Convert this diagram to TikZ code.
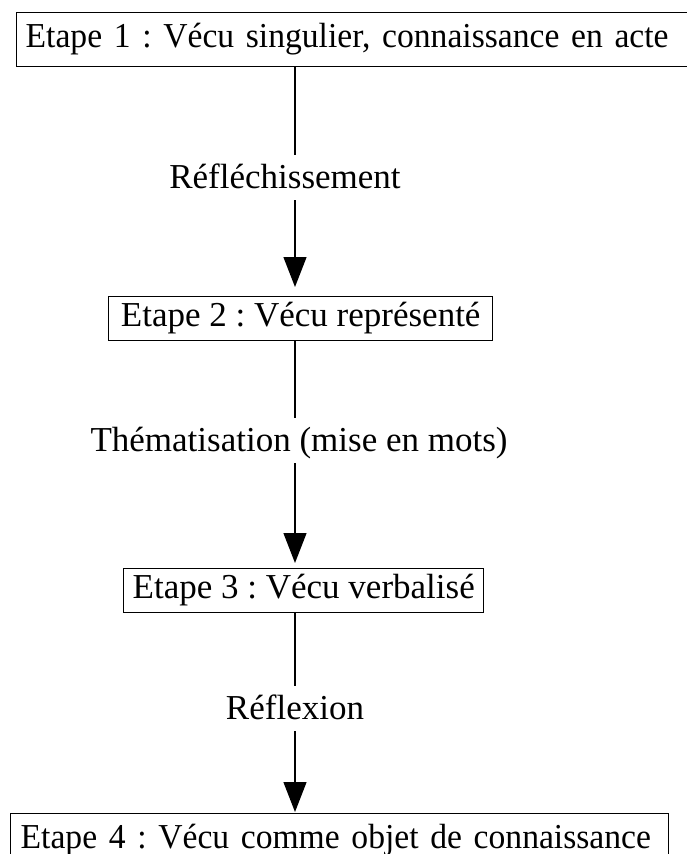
\documentclass[tikz,border=0pt]{standalone}
\usepackage{fontspec}
\setmainfont{Liberation Serif}
\newfontfamily\narrowserif[FakeStretch=0.96]{Liberation Serif}
\usetikzlibrary{arrows.meta}
\frenchspacing
\begin{document}
\begin{tikzpicture}[x=1pt,y=-1pt,
  bigfont/.style={font=\fontsize{35pt}{40pt}\selectfont\frenchspacing},
  narrowfont/.style={font=\fontsize{35pt}{40pt}\narrowserif\frenchspacing},
  stagebox/.style={bigfont, draw, line width=1.4pt, inner xsep=9pt, inner ysep=0pt, text height=25pt, text depth=9pt, anchor=north west, align=center},
  steplabel/.style={bigfont, inner sep=0pt, text height=33pt, text depth=12pt, anchor=base},
  link/.style={line width=1.3pt},
  arrowlink/.style={line width=1.3pt, -{Triangle[width=23pt,length=30pt]}}]
\useasboundingbox (0,0) rectangle (687,854);
\coordinate (axis) at (295,0);
\node[stagebox, narrowfont, minimum height=54pt, text width=700pt, align=left] (e1) at (16,12) {\mbox{Etape 1 : Vécu singulier, connaissance en acte}};
\node[stagebox, minimum width=384pt, minimum height=44pt] (e2) at (108,296) {Etape 2 : Vécu représenté};
\node[stagebox, minimum width=354pt, minimum height=44pt] (e3) at (123,568) {Etape 3 : Vécu verbalisé};
\node[stagebox, narrowfont, inner xsep=10pt, minimum height=54pt, text width=638pt, align=left] (e4) at (10,813) {\mbox{Etape 4 : Vécu comme objet de connaissance}};
\node[steplabel] (l1) at (285,188) {Réfléchissement};
\node[steplabel] (l2) at (299,451) {Thématisation (mise en mots)};
\node[steplabel] (l3) at (295,719) {Réflexion};
\draw[link] (axis |- e1.south) -- (axis |- l1.north);
\draw[arrowlink, shorten >=9pt] (axis |- l1.south) -- (axis |- e2.north);
\draw[link] (axis |- e2.south) -- (axis |- l2.north);
\draw[arrowlink, shorten >=5pt] (axis |- l2.south) -- (axis |- e3.north);
\draw[link] (axis |- e3.south) -- (axis |- l3.north);
\draw[arrowlink, shorten >=1pt] (axis |- l3.south) -- (axis |- e4.north);
\end{tikzpicture}
\end{document}
